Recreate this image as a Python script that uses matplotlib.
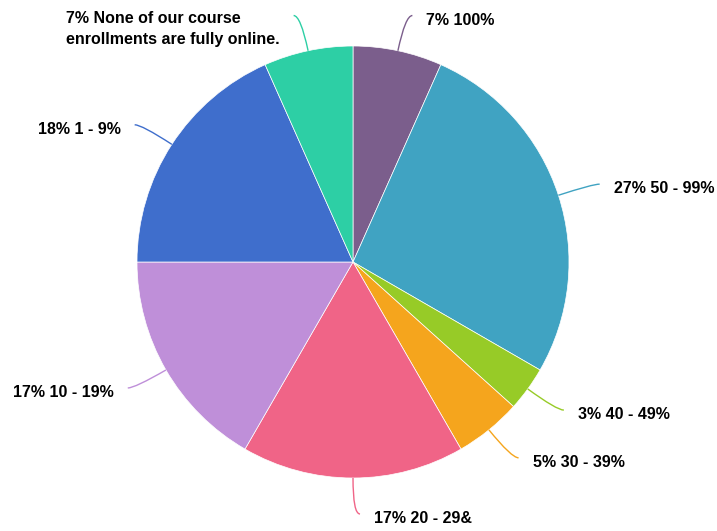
import numpy as np
import matplotlib.pyplot as plt
from matplotlib.path import Path
from matplotlib.patches import PathPatch

plt.rcParams['font.family'] = ['Liberation Sans', 'DejaVu Sans']

# share of programs by fraction of course enrollments that are fully online
categories = ['100%', '50 - 99%', '40 - 49%', '30 - 39%', '20 - 29&',
              '10 - 19%', '1 - 9%',
              'None of our course\nenrollments are fully online.']
counts = [4, 16, 2, 3, 10, 10, 11, 4]
colors = ['#7b5e8c', '#40a3c2', '#97cb27', '#f5a51d', '#f06487',
          '#bf8fd9', '#3f6ecc', '#2dcfa5']

W, H = 717, 531
fig = plt.figure(figsize=(W / 100, H / 100), dpi=100)
ax = fig.add_axes([0, 0, 1, 1])

center = (353, 269)
radius = 216

wedges, _ = ax.pie(counts, colors=colors, startangle=90, counterclock=False,
                   center=center, radius=radius, frame=True,
                   wedgeprops=dict(edgecolor='white', linewidth=0.5))
ax.set_xlim(0, W)
ax.set_ylim(0, H)
ax.set_aspect('equal')
ax.axis('off')

total = sum(counts)
for w, cat, n, col in zip(wedges, categories, counts, colors):
    mid = np.deg2rad((w.theta1 + w.theta2) / 2)
    d = np.array([np.cos(mid), np.sin(mid)])
    c = np.array(center)
    edge = c + radius * d
    ctrl = c + (radius + 36) * d
    side = 1 if d[0] >= -1e-6 else -1
    end = ctrl + np.array([7 * side, 0])
    path = Path([edge, ctrl, end], [Path.MOVETO, Path.CURVE3, Path.CURVE3])
    ax.add_patch(PathPatch(path, fill=False, edgecolor=col, lw=1))

    label = f"{100 * n / total:.0f}% {cat}"
    tx = end[0] + 14 * side
    ha = 'left' if side > 0 else 'right'
    if '\n' in cat:
        ax.text(tx, end[1] + 5, label, ha=ha, va='top', ma='left',
                fontsize=11.5, fontweight='bold', linespacing=1.55)
    else:
        ax.text(tx, end[1] - 4.5, label, ha=ha, va='center',
                fontsize=11.5, fontweight='bold')

fig.savefig('out.png', dpi=100)
